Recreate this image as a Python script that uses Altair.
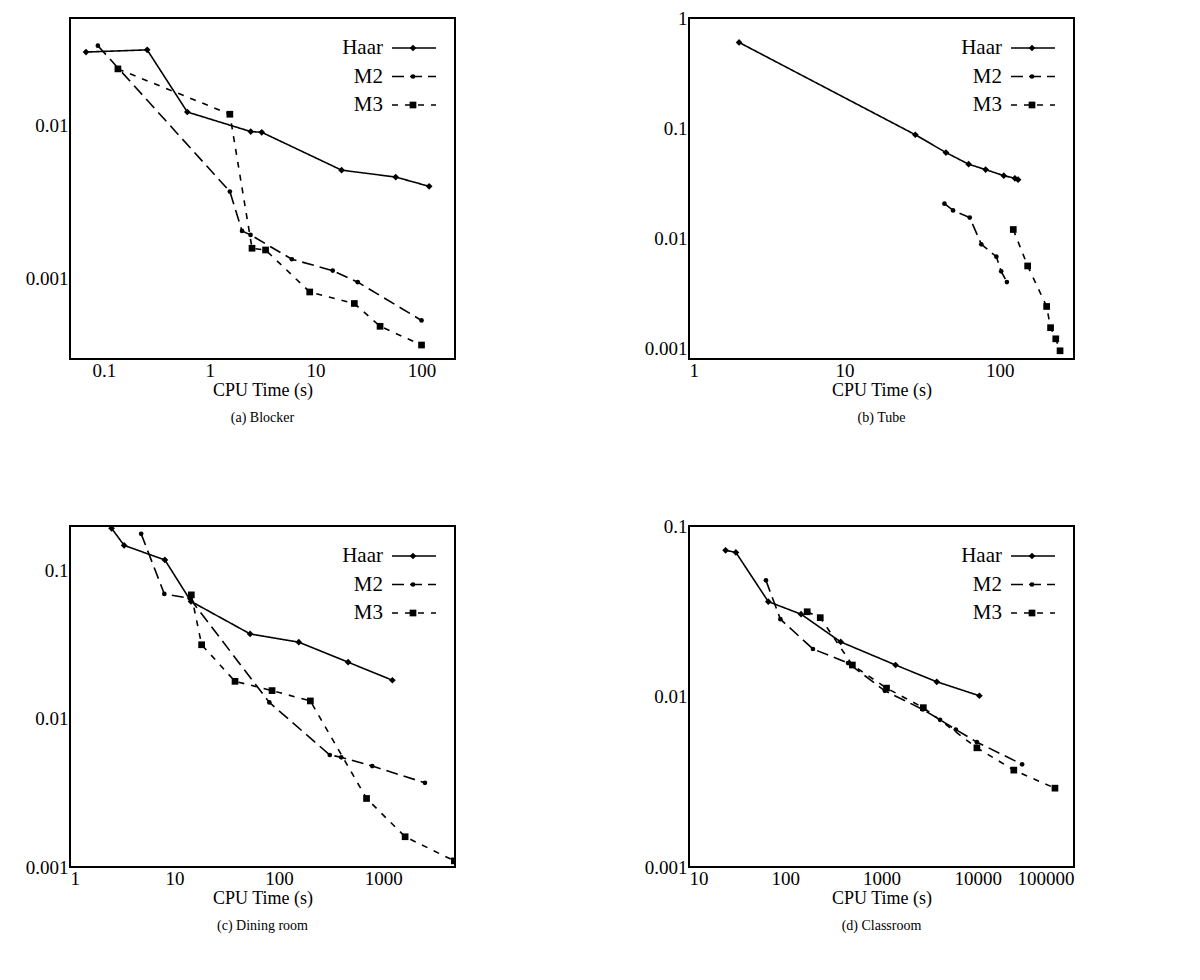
import altair as alt
import pandas as pd

SERIES = ["Haar", "M2", "M3"]

# (a) Blocker
a_haar_x = [0.068, 0.257, 0.615, 2.44, 3.1, 17.6, 57, 118]
a_haar_y = [0.030, 0.031, 0.0122, 0.0091, 0.0090, 0.0051, 0.0046, 0.0040]
a_m2_x = [0.088, 1.55, 2.02, 2.43, 5.97, 14.5, 25, 100]
a_m2_y = [0.033, 0.0037, 0.00205, 0.00193, 0.00134, 0.00113, 0.00095, 0.000535]
a_m3_x = [0.136, 1.55, 2.51, 3.37, 8.8, 23.2, 40.6, 100]
a_m3_y = [0.0233, 0.0118, 0.00158, 0.00154, 0.00082, 0.00069, 0.00049, 0.00037]

# (b) Tube
b_haar_x = [2.1, 28.6, 45, 63, 81, 106, 125, 131]
b_haar_y = [0.60, 0.087, 0.060, 0.047, 0.042, 0.037, 0.035, 0.034]
b_m2_x = [44, 50, 64, 76, 95, 102, 111]
b_m2_y = [0.0206, 0.0179, 0.0154, 0.0088, 0.0068, 0.0050, 0.0040]
b_m3_x = [122, 151, 200, 212, 229, 244]
b_m3_y = [0.012, 0.0056, 0.0024, 0.00154, 0.00122, 0.00095]

# (c) Dining room
c_haar_x = [2.5, 3.3, 8.1, 14.4, 53, 155, 460, 1220]
c_haar_y = [0.193, 0.148, 0.118, 0.062, 0.0374, 0.0329, 0.0241, 0.0182]
c_m2_x = [4.8, 8, 14, 81, 307, 395, 783, 2500]
c_m2_y = [0.177, 0.0696, 0.065, 0.0129, 0.0057, 0.0055, 0.0048, 0.0037]
c_m3_x = [14.5, 18.2, 38, 86, 200, 690, 1615, 4780]
c_m3_y = [0.0686, 0.0316, 0.0179, 0.0155, 0.0132, 0.0029, 0.0016, 0.0011]

# (d) Classroom
d_haar_x = [24, 30.7, 66.7, 146, 377, 1400, 3750, 10400]
d_haar_y = [0.072, 0.070, 0.036, 0.0304, 0.0209, 0.0153, 0.0122, 0.0101]
d_m2_x = [63, 89, 194, 449, 1083, 2680, 4060, 5920, 9800, 28900]
d_m2_y = [0.048, 0.0284, 0.019, 0.0157, 0.0108, 0.0084, 0.0073, 0.0064, 0.0054, 0.0040]
d_m3_x = [169, 231, 498, 1127, 2720, 9800, 23700, 63400]
d_m3_y = [0.0314, 0.029, 0.0153, 0.0112, 0.0086, 0.0050, 0.0037, 0.0029]

FONT = "Liberation Serif"
W, H = 385, 341
dash_range = [[1, 0], [12, 6], [6, 7]]
shape_range = ["diamond", "circle", "square"]
size_range = [45, 22, 45]


def df_of(xs_ys):
    rows = []
    for name, (xs, ys) in zip(SERIES, xs_ys):
        for i, (x, y) in enumerate(zip(xs, ys)):
            rows.append({"series": name, "x": x, "y": y, "i": i})
    return pd.DataFrame(rows)


LBL = "datum.value >= 1 ? format(datum.value, 'd') : format(datum.value, '~g')"


def panel(xs_ys, xdom, ydom, xvals, yvals, caption):
    df = df_of(xs_ys)
    xenc = alt.X("x:Q", scale=alt.Scale(type="log", domain=xdom, nice=False),
                 axis=alt.Axis(values=xvals, title="CPU Time (s)", labelExpr=LBL))
    yenc = alt.Y("y:Q", scale=alt.Scale(type="log", domain=ydom, nice=False),
                 axis=alt.Axis(values=yvals, title=None, labelExpr=LBL))
    base = alt.Chart(df)
    lines = base.mark_line(color="black", strokeWidth=1.6, clip=True).encode(
        x=xenc, y=yenc, order="i:Q",
        strokeDash=alt.StrokeDash("series:N", scale=alt.Scale(domain=SERIES, range=dash_range), legend=None),
        detail="series:N")
    layers = [lines]
    for j, name in enumerate(SERIES):
        layers.append(base.transform_filter(alt.datum.series == name).mark_point(
            filled=True, color="black", opacity=1, clip=True, shape=shape_range[j], size=size_range[j]
        ).encode(x=xenc, y=yenc))
    one = pd.DataFrame({"k": [0]})
    for j, name in enumerate(SERIES):
        yy = 30 + 28.5 * j
        layers.append(alt.Chart(one).mark_text(align="right", baseline="middle", font=FONT, fontSize=21,
                                               color="black").encode(
            x=alt.value(313), y=alt.value(yy), text=alt.value(name)))
        layers.append(alt.Chart(one).mark_rule(color="black", strokeWidth=1.6, strokeDash=dash_range[j]).encode(
            x=alt.value(322), x2=alt.value(366), y=alt.value(yy)))
        layers.append(alt.Chart(one).mark_point(filled=True, color="black", opacity=1, shape=shape_range[j],
                                                size=size_range[j]).encode(x=alt.value(343), y=alt.value(yy)))
    return alt.layer(*layers).properties(
        width=W, height=H,
        title=alt.TitleParams(caption, orient="bottom", font=FONT, fontSize=14, fontWeight="normal",
                              color="black", offset=12))


pa = panel([(a_haar_x, a_haar_y), (a_m2_x, a_m2_y), (a_m3_x, a_m3_y)],
           [0.048, 207], [0.0003, 0.05], [0.1, 1, 10, 100], [0.001, 0.01], "(a) Blocker")
pb = panel([(b_haar_x, b_haar_y), (b_m2_x, b_m2_y), (b_m3_x, b_m3_y)],
           [1, 300], [0.0008, 1], [1, 10, 100], [0.001, 0.01, 0.1, 1], "(b) Tube")
pc = panel([(c_haar_x, c_haar_y), (c_m2_x, c_m2_y), (c_m3_x, c_m3_y)],
           [1, 4850], [0.001, 0.2], [1, 10, 100, 1000], [0.001, 0.01, 0.1], "(c) Dining room")
pd_ = panel([(d_haar_x, d_haar_y), (d_m2_x, d_m2_y), (d_m3_x, d_m3_y)],
            [10, 100000], [0.001, 0.1], [10, 100, 1000, 10000, 100000], [0.001, 0.01, 0.1], "(d) Classroom")

chart = alt.vconcat(
    alt.hconcat(pa, pb, spacing=187),
    alt.hconcat(pc, pd_, spacing=187),
    spacing=90,
).properties(background="white", padding={"top": 0, "left": 16, "right": 5, "bottom": 5}).configure_view(
    stroke="black", strokeWidth=2).configure_axis(
    labelFont=FONT, titleFont=FONT, labelFontSize=19, titleFontSize=18, titleFontWeight="normal",
    labelColor="black", titleColor="black", domain=False, tickColor="black", tickSize=0, grid=False,
    titlePadding=1, labelPadding=2,
)

chart.save("out.html", embed_options={"renderer": "svg", "actions": False})
